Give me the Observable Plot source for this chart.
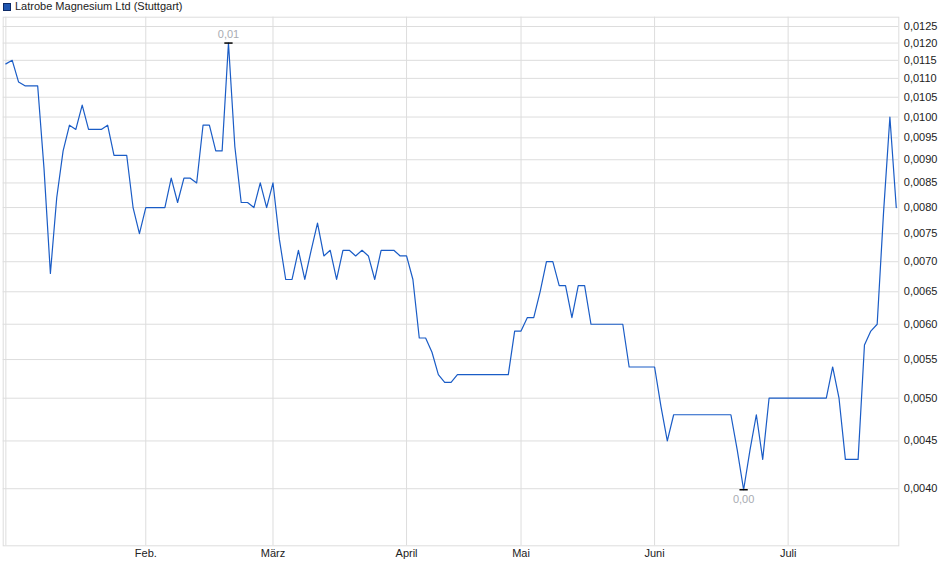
<!DOCTYPE html>
<html><head><meta charset="utf-8">
<script src="https://cdn.jsdelivr.net/npm/d3@7"></script>
<script src="https://cdn.jsdelivr.net/npm/@observablehq/plot@0.6"></script>
<style>
body{margin:0;background:#fff;font-family:"Liberation Sans",Arial,sans-serif;}
#legend{height:14px;position:relative;font-size:11px;color:#222;}
#legend .sw{position:absolute;left:3px;top:3px;width:6px;height:6px;background:#1f56b0;border:1px solid #0d2a66;}
#legend .lb{position:absolute;left:15px;top:0px;line-height:13px;}
#chart svg{display:block;}
</style></head><body>
<div id="legend"><span class="sw"></span><span class="lb">Latrobe Magnesium Ltd (Stuttgart)</span></div>
<div id="chart"></div>
<script>
const seriesName = "Latrobe Magnesium Ltd (Stuttgart)";
const prices = [
  0.0114, 0.0115, 0.0109, 0.0108, 0.0108, 0.0108, 0.0088, 0.0068, 0.0082, 0.0092,
  0.0098, 0.0097, 0.0103, 0.0097, 0.0097, 0.0097, 0.0098, 0.0091, 0.0091, 0.0091,
  0.0080, 0.0075, 0.0080, 0.0080, 0.0080, 0.0080, 0.0086, 0.0081, 0.0086, 0.0086,
  0.0085, 0.0098, 0.0098, 0.0092, 0.0092, 0.0120, 0.0093, 0.0081, 0.0081, 0.0080,
  0.0085, 0.0080, 0.0085, 0.0074, 0.0067, 0.0067, 0.0072, 0.0067, 0.0072, 0.0077,
  0.0071, 0.0072, 0.0067, 0.0072, 0.0072, 0.0071, 0.0072, 0.0071, 0.0067, 0.0072,
  0.0072, 0.0072, 0.0071, 0.0071, 0.0067, 0.0058, 0.0058, 0.0056, 0.0053, 0.0052,
  0.0052, 0.0053, 0.0053, 0.0053, 0.0053, 0.0053, 0.0053, 0.0053, 0.0053, 0.0053,
  0.0059, 0.0059, 0.0061, 0.0061, 0.0065, 0.0070, 0.0070, 0.0066, 0.0066, 0.0061,
  0.0066, 0.0066, 0.0060, 0.0060, 0.0060, 0.0060, 0.0060, 0.0060, 0.0054, 0.0054,
  0.0054, 0.0054, 0.0054, 0.0049, 0.0045, 0.0048, 0.0048, 0.0048, 0.0048, 0.0048,
  0.0048, 0.0048, 0.0048, 0.0048, 0.0048, 0.0044, 0.00399, 0.0044, 0.0048, 0.0043,
  0.0050, 0.0050, 0.0050, 0.0050, 0.0050, 0.0050, 0.0050, 0.0050, 0.0050, 0.0050,
  0.0054, 0.0050, 0.0043, 0.0043, 0.0043, 0.0057, 0.0059, 0.0060, 0.0079, 0.0100,
  0.0080
];
const monthTickIndex = [22, 42, 63, 81, 102, 123];
const monthLabels = ["Feb.", "März", "April", "Mai", "Juni", "Juli"];
const startGridIndex = [0];
const yTicks = [0.0040, 0.0045, 0.0050, 0.0055, 0.0060, 0.0065, 0.0070, 0.0075, 0.0080,
  0.0085, 0.0090, 0.0095, 0.0100, 0.0105, 0.0110, 0.0115, 0.0120, 0.0125];

const data = prices.map((v, i) => ({i, v}));
const iMax = d3.maxIndex(prices), iMin = d3.minIndex(prices);
const labelMap = new Map(monthTickIndex.map((d, k) => [d, monthLabels[k]]));
const fmtY = v => v.toFixed(4).replace(".", ",");
const fmt2 = v => v.toFixed(2).replace(".", ",");
const grid = "#dddddd";

const chart = Plot.plot({
  width: 940, height: 565,
  marginLeft: 2.7, marginRight: 41.7, marginTop: 2.7, marginBottom: 33.7,
  style: {fontFamily: "'Liberation Sans', Arial, sans-serif", fontSize: "11px", color: "#222", background: "#fff"},
  x: {domain: [-0.42, 140.4], axis: null, label: null},
  y: {type: "log", domain: [0.003475, 0.01279], axis: null, label: null},
  marks: [
    Plot.gridY(yTicks, {stroke: grid, strokeOpacity: 1}),
    Plot.gridX([...startGridIndex, ...monthTickIndex], {stroke: grid, strokeOpacity: 1}),
    Plot.frame({stroke: grid}),
    Plot.axisY(yTicks, {anchor: "right", label: null, tickSize: 0, tickPadding: 5, tickFormat: fmtY, fill: "#222"}),
    Plot.axisX(monthTickIndex, {anchor: "bottom", label: null, tickSize: 0, tickPadding: 3, tickFormat: d => labelMap.get(d), fill: "#222"}),
    Plot.line(data, {x: "i", y: "v", stroke: "#1a5cc6", strokeWidth: 1.2}),
    Plot.link([iMax, iMin], {x1: d => d - 0.65, x2: d => d + 0.65, y1: d => prices[d], y2: d => prices[d], stroke: "#000", strokeWidth: 1.5}),
    Plot.text([iMax], {x: d => d, y: d => prices[d], text: d => fmt2(prices[d]), dy: -9, fill: "#a8abb2"}),
    Plot.text([iMin], {x: d => d, y: d => prices[d], text: d => fmt2(prices[d]), dy: 10, fill: "#a8abb2"})
  ]
});
document.getElementById("chart").appendChild(chart);
</script>
</body></html>
